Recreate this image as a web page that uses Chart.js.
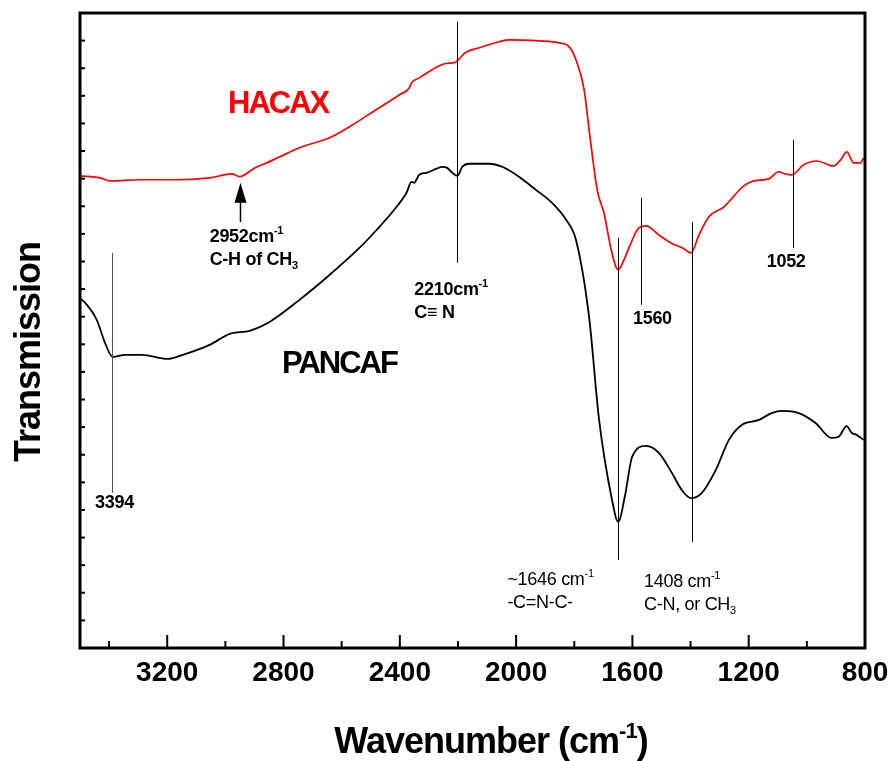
<!DOCTYPE html>
<html>
<head>
<meta charset="utf-8">
<script src="https://cdn.jsdelivr.net/npm/chart.js@4"></script>
<style>
  html, body { margin: 0; padding: 0; background: #fff; }
</style>
</head>
<body>
<canvas id="ftir" width="894" height="761"></canvas>
<script>
// FTIR spectra, wavenumber in cm-1, transmission in arbitrary units
const waveRed = [3500, 3431, 3397, 3294, 3174, 3054, 2978, 2951, 2899, 2865, 2813, 2745, 2642, 2573, 2487,
  2401, 2367, 2360, 2333, 2264, 2237, 2212, 2199, 2175, 2127, 2058, 2024, 1921, 1852, 1818, 1794, 1766,
  1749, 1721, 1697, 1673, 1649, 1629, 1612, 1578, 1553, 1509, 1467, 1423, 1399, 1371, 1337, 1285, 1217,
  1182, 1131, 1097, 1073, 1052, 1011, 966, 908, 884, 863, 839, 815, 805];
const hacax = [17.10, 17.03, 16.92, 16.96, 16.96, 17.03, 17.17, 17.07, 17.39, 17.54, 17.79, 18.12, 18.48, 18.88, 19.46,
  20.04, 20.29, 20.47, 20.65, 21.09, 21.18, 21.20, 21.30, 21.56, 21.74, 21.96, 22.03, 21.99, 21.92, 21.78, 21.30, 20.22,
  18.77, 16.59, 15.72, 14.42, 13.70, 14.06, 14.49, 15.22, 15.29, 14.96, 14.67, 14.46, 14.31, 14.96, 15.62, 15.98, 16.74,
  16.92, 16.99, 17.25, 17.17, 17.14, 17.50, 17.64, 17.46, 17.68, 17.97, 17.57, 17.57, 17.75];

const waveBlack = [3500, 3476, 3442, 3414, 3387, 3345, 3287, 3198, 3146, 3054, 2985, 2916, 2848, 2745, 2642,
  2539, 2480, 2425, 2377, 2360, 2350, 2343, 2333, 2309, 2274, 2254, 2237, 2219, 2202, 2185, 2161, 2092,
  2048, 2000, 1931, 1876, 1828, 1794, 1749, 1715, 1670, 1649, 1625, 1601, 1553, 1509, 1464, 1430, 1399,
  1361, 1313, 1268, 1224, 1165, 1121, 1086, 1028, 970, 915, 891, 863, 846, 829, 805];
const pancaf = [12.68, 12.43, 11.88, 11.05, 10.54, 10.62, 10.62, 10.47, 10.62, 10.98, 11.38, 11.49, 11.81, 12.61, 13.51,
  14.49, 15.14, 15.80, 16.49, 16.88, 16.85, 16.96, 17.14, 17.21, 17.36, 17.43, 17.39, 17.21, 17.10, 17.43, 17.54, 17.54,
  17.43, 17.14, 16.59, 16.12, 15.51, 14.78, 11.99, 8.30, 5.36, 4.57, 5.54, 6.92, 7.32, 7.07, 6.34, 5.72, 5.43,
  5.62, 6.45, 7.54, 8.08, 8.26, 8.51, 8.59, 8.51, 8.15, 7.61, 7.65, 8.04, 7.79, 7.72, 7.54];

const xTickLabels = [3200, 2800, 2400, 2000, 1600, 1200, 800];

// peak marker lines (wavenumber where drawn, top and bottom in transmission units)
const markWave = [3390, 2202, 1648, 1570, 1396, 1048];
const markTop = [14.31, 22.68, 14.86, 16.30, 15.43, 18.41];
const markBottom = [5.62, 13.95, 3.19, 12.43, 3.84, 14.49];

// arrow to the 2952 dip
const arrowWave = 2948;
const arrowFrom = 15.43;
const arrowTo = 16.85;

const FONT = '"Liberation Sans", Arial, sans-serif';

const notes = [
  { lines: ['3394'], x: 3448, y: 5.07, weight: 'bold' },
  { lines: ['2952cm^{-1}', 'C-H of CH_{3}'], x: 3054, y: 14.71, weight: 'bold' },
  { lines: ['2210cm^{-1}', 'C\u2261 N'], x: 2350, y: 12.79, weight: 'bold' },
  { lines: ['~1646 cm^{-1}', '-C=N-C-'], x: 2030, y: 2.28, weight: 'normal' },
  { lines: ['1408 cm^{-1}', 'C-N, or CH_{3}'], x: 1560, y: 2.21, weight: 'normal' },
  { lines: ['1560'], x: 1598, y: 11.74, weight: 'bold' },
  { lines: ['1052'], x: 1138, y: 13.80, weight: 'bold' }
];

function richParts(str) {
  return str.split(/(\^\{[^}]*\}|_\{[^}]*\})/).filter(Boolean).map(s => {
    if (s.startsWith('^{')) return { t: s.slice(2, -1), shift: -1 };
    if (s.startsWith('_{')) return { t: s.slice(2, -1), shift: 1 };
    return { t: s, shift: 0 };
  });
}

function drawRich(ctx, str, x, y, size, weight, color, align, spacing) {
  const parts = richParts(str);
  const fontFor = p => weight + ' ' + (p.shift ? Math.round(size * 0.62) : size) + 'px ' + FONT;
  ctx.letterSpacing = (spacing || 0) + 'px';
  let w = 0;
  parts.forEach(p => { ctx.font = fontFor(p); w += ctx.measureText(p.t).width; });
  let cx = align === 'center' ? x - w / 2 : x;
  ctx.fillStyle = color;
  ctx.textAlign = 'left';
  ctx.textBaseline = 'alphabetic';
  parts.forEach(p => {
    ctx.font = fontFor(p);
    const dy = p.shift < 0 ? -size * 0.42 : (p.shift > 0 ? size * 0.25 : 0);
    ctx.fillText(p.t, cx, y + dy);
    cx += ctx.measureText(p.t).width;
  });
  ctx.letterSpacing = '0px';
}

const decor = {
  id: 'decor',
  afterDatasetsDraw(chart) {
    const { ctx, chartArea: a, scales: { x, y } } = chart;
    ctx.save();

    // peak marker lines
    ctx.lineWidth = 1;
    markWave.forEach((w, i) => {
      const px = Math.round(x.getPixelForValue(w)) + 0.5;
      ctx.strokeStyle = i === 0 ? '#555' : '#000';
      ctx.beginPath();
      ctx.moveTo(px, y.getPixelForValue(markTop[i]));
      ctx.lineTo(px, y.getPixelForValue(markBottom[i]));
      ctx.stroke();
    });

    // arrow
    const ax = x.getPixelForValue(arrowWave);
    const tip = y.getPixelForValue(arrowTo);
    const tail = y.getPixelForValue(arrowFrom);
    ctx.strokeStyle = '#000';
    ctx.lineWidth = 1.5;
    ctx.beginPath();
    ctx.moveTo(ax, tail);
    ctx.lineTo(ax, tip + 16);
    ctx.stroke();
    ctx.fillStyle = '#000';
    ctx.beginPath();
    ctx.moveTo(ax, tip);
    ctx.lineTo(ax - 6, tip + 20);
    ctx.lineTo(ax + 6, tip + 20);
    ctx.closePath();
    ctx.fill();

    // frame
    ctx.lineWidth = 3;
    ctx.strokeRect(a.left, a.top, a.right - a.left, a.bottom - a.top);

    // inward ticks
    ctx.lineWidth = 2;
    for (let w = 1000; w <= 3400; w += 200) {
      const px = x.getPixelForValue(w);
      const len = w % 400 === 0 ? 13 : 7;
      ctx.beginPath();
      ctx.moveTo(px, a.bottom);
      ctx.lineTo(px, a.bottom - len);
      ctx.stroke();
    }
    for (let v = 1; v < 23; v++) {
      const py = y.getPixelForValue(v);
      ctx.beginPath();
      ctx.moveTo(a.left, py);
      ctx.lineTo(a.left + 5, py);
      ctx.stroke();
    }

    // annotation text
    notes.forEach(n => {
      const px = x.getPixelForValue(n.x);
      const py = y.getPixelForValue(n.y);
      n.lines.forEach((line, k) => {
        drawRich(ctx, line, px, py + k * 23, 18, n.weight, '#000', 'left', -0.3);
      });
    });

    // series names
    drawRich(ctx, 'HACAX', 228, 113, 31, 'bold', '#ff0000', 'left', -2);
    drawRich(ctx, 'PANCAF', 282, 373, 31, 'bold', '#000', 'left', -2);

    // axis titles
    drawRich(ctx, 'Wavenumber (cm^{-1})', 491, 753, 36, 'bold', '#000', 'center', -1);
    ctx.translate(40, 352);
    ctx.rotate(-Math.PI / 2);
    drawRich(ctx, 'Transmission', 0, 0, 36, 'bold', '#000', 'center', -1);

    ctx.restore();
  }
};

const ctx = document.getElementById('ftir').getContext('2d');
const chart = new Chart(ctx, {
  type: 'line',
  data: {
    datasets: [
      {
        label: 'HACAX',
        data: waveRed.map((w, i) => ({ x: w, y: hacax[i] })),
        borderColor: '#ff0000',
        borderWidth: 1.7,
        pointRadius: 0,
        cubicInterpolationMode: 'monotone'
      },
      {
        label: 'PANCAF',
        data: waveBlack.map((w, i) => ({ x: w, y: pancaf[i] })),
        borderColor: '#000000',
        borderWidth: 1.8,
        pointRadius: 0,
        cubicInterpolationMode: 'monotone'
      }
    ]
  },
  options: {
    responsive: false,
    animation: false,
    layout: { padding: { top: 13, right: 29, left: 0, bottom: 0 } },
    plugins: { legend: { display: false }, tooltip: { enabled: false } },
    scales: {
      x: {
        type: 'linear',
        reverse: true,
        min: 800,
        max: 3500,
        afterBuildTicks: s => { s.ticks = xTickLabels.map(v => ({ value: v })); },
        afterFit: s => { s.height = 113; s.paddingRight = 0; s.paddingLeft = 0; },
        grid: { display: false, drawTicks: false },
        border: { display: false },
        ticks: {
          color: '#000',
          font: { family: FONT, size: 28, weight: 'bold' },
          padding: 8,
          maxRotation: 0,
          autoSkip: false,
          callback: v => String(v)
        }
      },
      y: {
        min: 0,
        max: 23,
        afterFit: s => { s.width = 80; },
        grid: { display: false, drawTicks: false },
        border: { display: false },
        ticks: { display: false }
      }
    }
  },
  plugins: [decor]
});
</script>
</body>
</html>
